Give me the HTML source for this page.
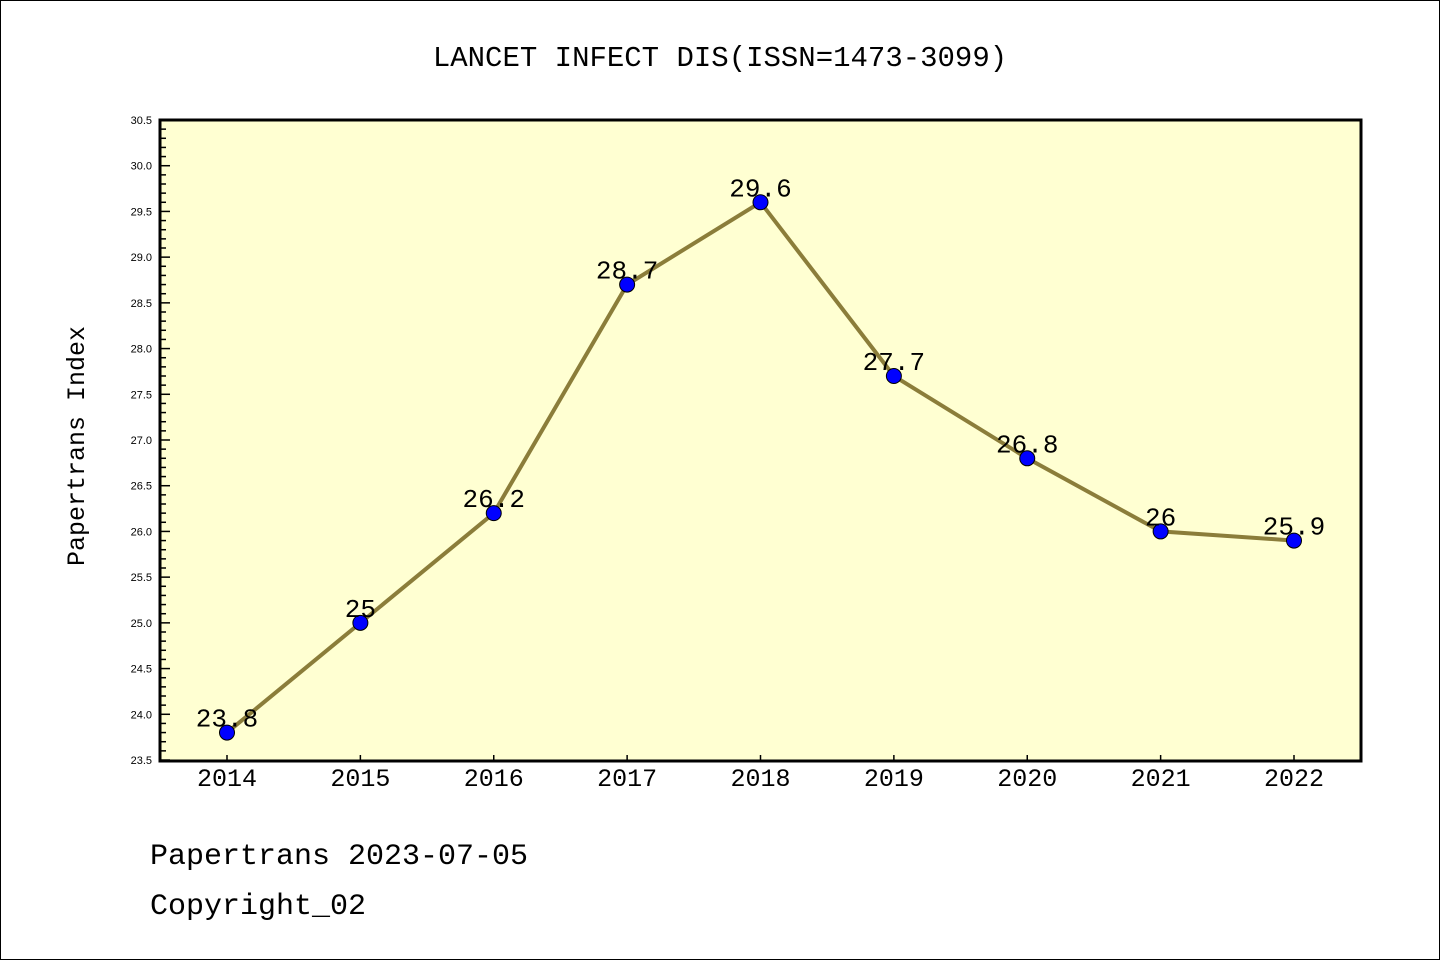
<!DOCTYPE html>
<html><head><meta charset="utf-8"><style>
body{margin:0;background:#fff}
svg{display:block;font-family:"Liberation Mono","DejaVu Sans Mono",monospace}
</style></head><body>
<svg id="c" width="1440" height="960">
<rect x="0.5" y="0.5" width="1439" height="959" fill="#fff" stroke="#000"/>
<text x="720" y="66" text-anchor="middle" font-size="29">LANCET INFECT DIS(ISSN=1473-3099)</text>
<rect x="160" y="120" width="1201" height="641" fill="#ffffd2"/>
<g id="ticks"></g>
<g id="marks"></g>
<rect x="160" y="120" width="1201" height="641" fill="none" stroke="#000" stroke-width="3"/>
<text transform="translate(84,446) rotate(-90)" text-anchor="middle" font-size="25">Papertrans Index</text>
<text x="150" y="864" font-size="30">Papertrans 2023-07-05</text>
<text x="150" y="914" font-size="30">Copyright_02</text>
</svg>
<script>
const categories=["2014","2015","2016","2017","2018","2019","2020","2021","2022"];
const values=[23.8,25,26.2,28.7,29.6,27.7,26.8,26,25.9];
const labels=["23.8","25","26.2","28.7","29.6","27.7","26.8","26","25.9"];
const yTicks=["23.5","24.0","24.5","25.0","25.5","26.0","26.5","27.0","27.5","28.0","28.5","29.0","29.5","30.0","30.5"];
const NS="http://www.w3.org/2000/svg";
const yMin=23.5,yMax=30.5,yTop=120,yBot=760,x0=227,x1=1294;
const y=v=>yBot-(v-yMin)/(yMax-yMin)*(yBot-yTop);
const x=i=>x0+i*(x1-x0)/(categories.length-1);
function mk(t,a,p){const e=document.createElementNS(NS,t);for(const k in a)e.setAttribute(k,a[k]);p.appendChild(e);return e;}
const tg=document.getElementById('ticks'),mg=document.getElementById('marks');
for(let k=0;k<=70;k++){const v=yMin+k*0.1;const maj=k%5===0;
 const l=mk('line',{x1:160,x2:maj?170:166,y1:y(v),y2:y(v),stroke:'#000','stroke-width':1.5},tg);
 
 }
yTicks.forEach(t=>{const e=mk('text',{x:152,y:y(+t)+4,'text-anchor':'end','font-size':11,'font-family':'Liberation Sans, sans-serif'},tg);e.textContent=t;
 
 });
categories.forEach((c,i)=>{const l=mk('line',{x1:x(i),x2:x(i),y1:761,y2:755,stroke:'#000','stroke-width':1.5},tg);
 
 
 const e=mk('text',{x:x(i),y:786,'text-anchor':'middle','font-size':25},tg);e.textContent=c;
 
 });
const pl=mk('polyline',{points:values.map((v,i)=>x(i)+','+y(v)).join(' '),fill:'none',stroke:'#8b7d3a','stroke-width':4},mg);


values.forEach((v,i)=>{const c=mk('circle',{cx:x(i),cy:y(v),r:7.5,fill:'#0000ff',stroke:'#000','stroke-width':1},mg);
 
 
 const t=mk('text',{x:x(i),y:y(v)-6,'text-anchor':'middle','font-size':26},mg);t.textContent=labels[i];
 
 });
</script>
</body></html>
